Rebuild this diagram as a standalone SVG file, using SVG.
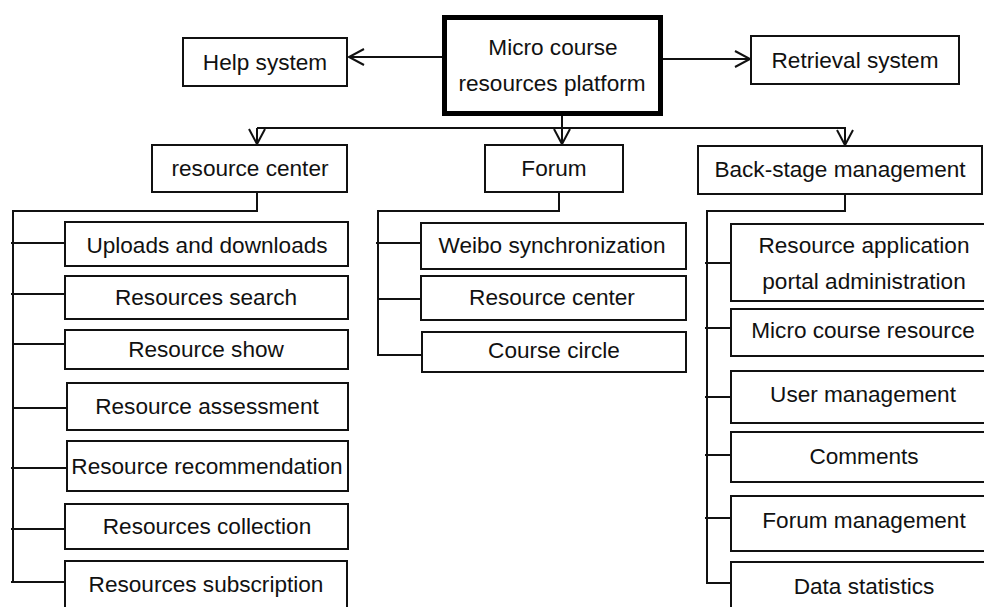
<svg xmlns="http://www.w3.org/2000/svg" width="984" height="607" viewBox="0 0 984 607">
<defs>
<style>
.box{fill:#fff;stroke:#111;stroke-width:2}
.main{fill:#fff;stroke:#000;stroke-width:5}
.t{font-family:"Liberation Sans",Arial,sans-serif;font-size:22.6px;fill:#111;text-anchor:middle}
.c{fill:none;stroke:#111;stroke-width:2}
</style>
<marker id="arr" markerUnits="userSpaceOnUse" markerWidth="22" markerHeight="22" viewBox="-17 -11 22 22" refX="0" refY="0" orient="auto">
<path d="M-15,-8 L0,0 L-15,8" fill="none" stroke="#111" stroke-width="2"/>
</marker>
</defs>
<rect width="984" height="607" fill="#fff"/>
<g id="connectors">
<line class="c" x1="442" y1="57" x2="349" y2="57" marker-end="url(#arr)"/>
<line class="c" x1="663" y1="59" x2="750" y2="59" marker-end="url(#arr)"/>
<line class="c" x1="562" y1="116" x2="562" y2="144" marker-end="url(#arr)"/>
<polyline class="c" points="257,128 845,128 845,145" marker-end="url(#arr)"/>
<line class="c" x1="257" y1="128" x2="257" y2="144" marker-end="url(#arr)"/>
<polyline class="c" points="257,192 257,211 13,211 13,582"/>
<line class="c" x1="11" y1="243" x2="65" y2="243"/>
<line class="c" x1="11" y1="294" x2="65" y2="294"/>
<line class="c" x1="13" y1="344" x2="67" y2="344"/>
<line class="c" x1="13" y1="408" x2="67" y2="408"/>
<line class="c" x1="11" y1="468" x2="67" y2="468"/>
<line class="c" x1="11" y1="529" x2="65" y2="529"/>
<line class="c" x1="11" y1="582" x2="65" y2="582"/>
<polyline class="c" points="559,192 559,211 378,211 378,355 422,355"/>
<line class="c" x1="376" y1="243" x2="421" y2="243"/>
<line class="c" x1="378" y1="299" x2="423" y2="299"/>
<polyline class="c" points="845,194 845,211 707,211 707,583 733,583"/>
<line class="c" x1="705" y1="263" x2="731" y2="263"/>
<line class="c" x1="705" y1="328" x2="731" y2="328"/>
<line class="c" x1="705" y1="397" x2="731" y2="397"/>
<line class="c" x1="705" y1="455" x2="731" y2="455"/>
<line class="c" x1="705" y1="518" x2="731" y2="518"/>
</g>
<g id="main"><rect class="main" x="444.5" y="17.5" width="216" height="96"/><text class="t" x="553" y="55">Micro course</text><text class="t" x="552" y="91">resources platform</text></g>
<g id="help"><rect class="box" x="183" y="38" width="164" height="48"/><text class="t" x="265" y="70">Help system</text></g>
<g id="retrieval"><rect class="box" x="751" y="36" width="208" height="48"/><text class="t" x="855" y="68">Retrieval system</text></g>
<g id="resource-center"><rect class="box" x="152" y="145" width="195" height="47"/><text class="t" x="250" y="176">resource center</text></g>
<g id="forum"><rect class="box" x="485" y="145" width="138" height="47"/><text class="t" x="554" y="176">Forum</text></g>
<g id="backstage"><rect class="box" x="698" y="146" width="284" height="48"/><text class="t" x="840" y="177">Back-stage management</text></g>
<g id="uploads"><rect class="box" x="65" y="222" width="283" height="44"/><text class="t" x="207" y="253">Uploads and downloads</text></g>
<g id="search"><rect class="box" x="65" y="276" width="283" height="43"/><text class="t" x="206" y="305">Resources search</text></g>
<g id="show"><rect class="box" x="65" y="330" width="283" height="39"/><text class="t" x="206" y="357">Resource show</text></g>
<g id="assessment"><rect class="box" x="67" y="383" width="281" height="47"/><text class="t" x="207" y="414">Resource assessment</text></g>
<g id="recommendation"><rect class="box" x="67" y="441" width="281" height="50"/><text class="t" x="207" y="474">Resource recommendation</text></g>
<g id="collection"><rect class="box" x="65" y="504" width="283" height="45"/><text class="t" x="207" y="534">Resources collection</text></g>
<g id="subscription"><rect class="box" x="65" y="561" width="282" height="60"/><text class="t" x="206" y="592">Resources subscription</text></g>
<g id="weibo"><rect class="box" x="421" y="223" width="265" height="46"/><text class="t" x="552" y="253">Weibo synchronization</text></g>
<g id="forum-resource-center"><rect class="box" x="421" y="276" width="265" height="44"/><text class="t" x="552" y="305">Resource center</text></g>
<g id="course-circle"><rect class="box" x="422" y="332" width="264" height="40"/><text class="t" x="554" y="358">Course circle</text></g>
<g id="portal-admin"><rect class="box" x="731" y="224" width="260" height="77"/><text class="t" x="864" y="253">Resource application</text><text class="t" x="864" y="289">portal administration</text></g>
<g id="micro-course-resource"><rect class="box" x="731" y="309" width="260" height="47"/><text class="t" x="863" y="338">Micro course resource</text></g>
<g id="user-management"><rect class="box" x="731" y="371" width="260" height="52"/><text class="t" x="863" y="402">User management</text></g>
<g id="comments"><rect class="box" x="731" y="432" width="260" height="50"/><text class="t" x="864" y="464">Comments</text></g>
<g id="forum-management"><rect class="box" x="731" y="496" width="260" height="55"/><text class="t" x="864" y="528">Forum management</text></g>
<g id="data-statistics"><rect class="box" x="731" y="562" width="260" height="60"/><text class="t" x="864" y="594">Data statistics</text></g>
</svg>
